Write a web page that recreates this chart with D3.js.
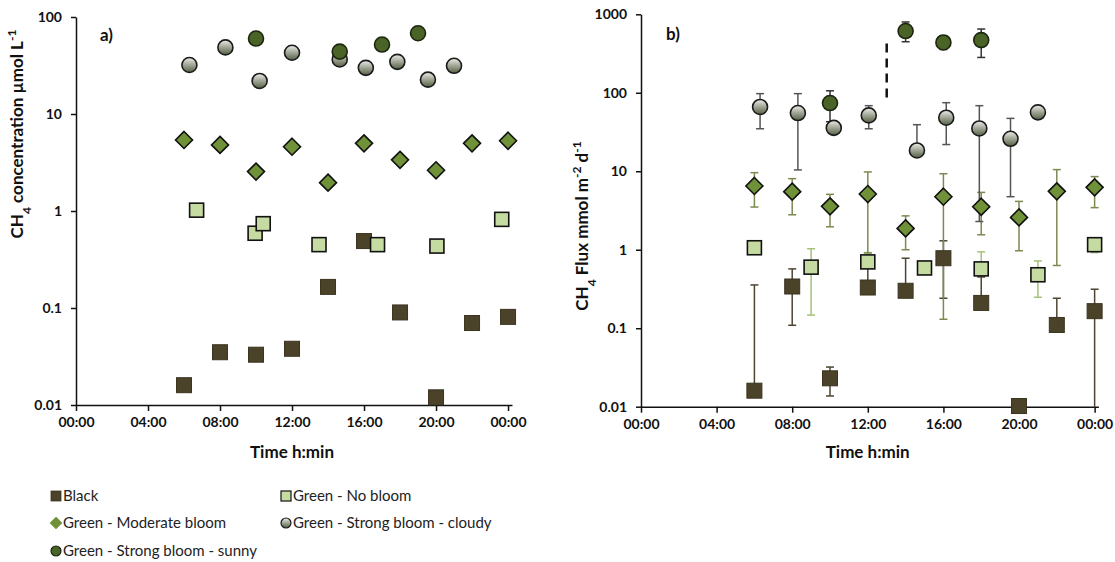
<!DOCTYPE html>
<html><head><meta charset="utf-8">
<script src="https://cdn.jsdelivr.net/npm/d3@7"></script>
<style>
body{margin:0;background:#fff;}
svg{display:block;font-family:Lato,"Open Sans",sans-serif;}
.tick text{font-weight:bold;font-size:14px;fill:#111;}
.domain,.tick line{stroke:#111;stroke-width:1.5px;}
</style></head><body>
<svg id="chart" width="1115" height="562"></svg>
<script>
// ---------- data ----------
const xTickHours = [0, 4, 8, 12, 16, 20, 24];
const xTickLabels = ["00:00", "04:00", "08:00", "12:00", "16:00", "20:00", "00:00"];
const yTicksA = [0.01, 0.1, 1, 10, 100];
const yTicksB = [0.01, 0.1, 1, 10, 100, 1000];
const seriesNames = ["Black", "Green - No bloom", "Green - Moderate bloom", "Green - Strong bloom - cloudy", "Green - Strong bloom - sunny"];

// Panel a) concentrations
const aBlackT = [6, 8, 10, 12, 14, 16, 18, 20, 22, 24];
const aBlackV = [0.016, 0.035, 0.033, 0.038, 0.165, 0.49, 0.09, 0.012, 0.07, 0.081];
const aNoBloomT = [6.7, 9.95, 10.4, 13.5, 16.75, 20.05, 23.65];
const aNoBloomV = [1.02, 0.59, 0.74, 0.45, 0.45, 0.435, 0.82];
const aModT = [6, 8, 10, 12, 14, 16, 18, 20, 22, 24];
const aModV = [5.4, 4.8, 2.55, 4.6, 1.96, 4.98, 3.37, 2.63, 4.98, 5.3];
const aCloudyT = [6.3, 8.3, 10.2, 12, 14.65, 16.1, 17.85, 19.55, 21];
const aCloudyV = [32, 48.6, 21.9, 42.8, 36.5, 29.9, 34.5, 22.6, 31.4];
const aSunnyT = [10, 14.65, 17, 19];
const aSunnyV = [60, 44, 52, 68];

// Panel b) fluxes with error bars (null = no bar on that side)
const bBlackT = [6, 8, 10, 12, 14, 16, 18, 20, 22, 24];
const bBlackV = [0.016, 0.34, 0.023, 0.33, 0.30, 0.78, 0.21, 0.0102, 0.11, 0.165];
const bBlackLo = [null, 0.109, 0.0137, null, null, 0.241, null, null, null, 0.01];
const bBlackHi = [0.356, 0.57, 0.032, 0.62, 0.78, 1.30, 0.45, null, 0.241, 0.314];
const bNoBloomT = [6, 9, 12, 15, 18, 21, 24];
const bNoBloomV = [1.06, 0.60, 0.70, 0.586, 0.57, 0.48, 1.16];
const bNoBloomLo = [null, 0.147, null, null, null, 0.248, 0.92];
const bNoBloomHi = [null, 1.03, 0.92, null, 0.94, 0.72, null];
const bModT = [6, 8, 10, 12, 14, 16, 18, 20, 22, 24];
const bModV = [6.5, 5.5, 3.57, 5.13, 1.87, 4.74, 3.53, 2.58, 5.55, 6.24];
const bModLo = [3.5, 2.79, 1.96, 0.91, 1.0, 0.13, 1.55, 0.97, 0.63, 3.44];
const bModHi = [9.6, 8.05, 5.08, 9.8, 2.7, 9.3, 5.38, 4.13, 10.5, 8.55];
const bCloudyT = [6.3, 8.3, 10.2, 12.05, 14.6, 16.15, 17.9, 19.55, 21];
const bCloudyV = [65.9, 55.2, 35.7, 51.5, 18.4, 48.1, 35.1, 25.9, 56.3];
const bCloudyLo = [34.8, 10.4, null, 34.8, null, 21.9, 2.29, 4.74, null];
const bCloudyHi = [97.5, 97.5, null, 68.5, 39.2, 74.8, 68.5, 47.2, null];
const bSunnyT = [10, 14, 16, 18];
const bSunnyV = [74, 612, 438, 469];
const bSunnyLo = [42.8, 447, 356, 282];
const bSunnyHi = [106, 798, 533, 649];
const dashT = 13;
const dashRange = [87, 460];

// ---------- drawing ----------
const svg = d3.select("#chart");
const defs = svg.append("defs");
const grad = defs.append("linearGradient").attr("id", "cloudy").attr("x1", 0).attr("y1", 0).attr("x2", 0).attr("y2", 1);
grad.append("stop").attr("offset", "0%").attr("stop-color", "#eeeeea");
grad.append("stop").attr("offset", "40%").attr("stop-color", "#aeb3a4");
grad.append("stop").attr("offset", "100%").attr("stop-color", "#545f44");

const style = {
  black:   {shape: "square", fill: "#4a4329", stroke: "#3a3420", sw: 1, size: 15, err: "#4d4530"},
  nobloom: {shape: "square", fill: "#c6dba2", stroke: "#111", sw: 1.6, size: 14, err: "#a6c07a"},
  mod:     {shape: "diamond", fill: "#6f9138", stroke: "#111", sw: 1.6, size: 17, err: "#7a8a50"},
  cloudy:  {shape: "circle", fill: "url(#cloudy)", stroke: "#1a1a1a", sw: 1.6, size: 15, err: "#555"},
  sunny:   {shape: "circle", fill: "#4a6326", stroke: "#1c2610", sw: 1.6, size: 15, err: "#333"}
};

function drawMarker(g, st, x, y, sizeOverride) {
  const s = sizeOverride || st.size;
  if (st.shape === "square") {
    g.append("rect").attr("x", x - s / 2).attr("y", y - s / 2).attr("width", s).attr("height", s)
      .attr("fill", st.fill).attr("stroke", st.stroke).attr("stroke-width", st.sw);
  } else if (st.shape === "diamond") {
    const h = s / 2;
    g.append("path").attr("d", `M${x},${y - h}L${x + h},${y}L${x},${y + h}L${x - h},${y}Z`)
      .attr("fill", st.fill).attr("stroke", st.stroke).attr("stroke-width", st.sw);
  } else {
    g.append("circle").attr("cx", x).attr("cy", y).attr("r", s / 2)
      .attr("fill", st.fill).attr("stroke", st.stroke).attr("stroke-width", st.sw);
  }
}

function panel(cfg) {
  const x = d3.scaleLinear().domain([0, cfg.xMax]).range(cfg.xRange);
  const y = d3.scaleLog().domain(cfg.yDomain).range(cfg.yRange);
  const g = svg.append("g");
  const xa = d3.axisBottom(x).tickValues(xTickHours).tickFormat((d, i) => xTickLabels[i])
    .tickSize(6).tickPadding(6).tickSizeOuter(0);
  g.append("g").attr("transform", `translate(0,${cfg.yRange[0]})`).call(xa);
  const ya = d3.axisLeft(y).tickValues(cfg.yTicks).tickFormat(d => String(d))
    .tickSize(5).tickPadding(9).tickSizeOuter(0);
  g.append("g").attr("transform", `translate(${cfg.xRange[0]},0)`).call(ya);
  g.selectAll(".tick text").attr("font-family", "Lato");

  // axis titles
  g.append("text").attr("x", (cfg.xRange[0] + cfg.xRange[1]) / 2 - 2).attr("y", 458)
    .attr("text-anchor", "middle").attr("font-weight", "bold").attr("font-size", 17).attr("fill", "#111")
    .text("Time h:min");
  const yt = g.append("text").attr("transform", `translate(${cfg.yTitleX},${cfg.yTitleY}) rotate(-90)`)
    .attr("text-anchor", "middle").attr("font-weight", "bold").attr("font-size", 17).attr("fill", "#111");
  cfg.yTitle.forEach(p => {
    const t = yt.append("tspan").text(p.t);
    if (p.sub) t.attr("baseline-shift", "sub").attr("font-size", 12);
    if (p.sup) t.attr("baseline-shift", "super").attr("font-size", 12);
  });
  g.append("text").attr("x", cfg.tag[0]).attr("y", cfg.tag[1]).attr("font-weight", "bold")
    .attr("font-size", 17).attr("fill", "#111").text(cfg.tagText);

  const eb = g.append("g"), mk = g.append("g");
  cfg.series.forEach(s => {
    const st = style[s.key];
    s.T.forEach((t, i) => {
      const cx = x(t), cy = y(s.V[i]);
      const lo = s.Lo ? s.Lo[i] : null, hi = s.Hi ? s.Hi[i] : null;
      const col = st.err;
      if (hi != null) {
        eb.append("line").attr("x1", cx).attr("x2", cx).attr("y1", cy).attr("y2", y(hi)).attr("stroke", col).attr("stroke-width", 1.5);
        eb.append("line").attr("x1", cx - 4).attr("x2", cx + 4).attr("y1", y(hi)).attr("y2", y(hi)).attr("stroke", col).attr("stroke-width", 1.5);
      }
      if (lo != null) {
        const yl = Math.min(y(lo), cfg.yRange[0]);
        eb.append("line").attr("x1", cx).attr("x2", cx).attr("y1", cy).attr("y2", yl).attr("stroke", col).attr("stroke-width", 1.5);
        if (y(lo) < cfg.yRange[0] - 1)
          eb.append("line").attr("x1", cx - 4).attr("x2", cx + 4).attr("y1", yl).attr("y2", yl).attr("stroke", col).attr("stroke-width", 1.5);
      }
      drawMarker(mk, st, cx, cy);
    });
  });
  if (cfg.dash) {
    g.append("line").attr("x1", x(cfg.dash.t)).attr("x2", x(cfg.dash.t))
      .attr("y1", y(cfg.dash.r[0])).attr("y2", y(cfg.dash.r[1]))
      .attr("stroke", "#111").attr("stroke-width", 2.5).attr("stroke-dasharray", "9,6");
  }
}

panel({
  xMax: 24.22, xRange: [76, 512], yDomain: [0.01, 100], yRange: [405, 17], yTicks: yTicksA,
  yTitleX: 23, yTitleY: 134, tag: [100, 41], tagText: "a)",
  yTitle: [{t: "CH"}, {t: "4", sub: true}, {t: " concentration µmol L"}, {t: "-1", sup: true}],
  series: [
    {key: "black", T: aBlackT, V: aBlackV},
    {key: "nobloom", T: aNoBloomT, V: aNoBloomV},
    {key: "mod", T: aModT, V: aModV},
    {key: "cloudy", T: aCloudyT, V: aCloudyV},
    {key: "sunny", T: aSunnyT, V: aSunnyV}
  ]
});

panel({
  xMax: 24.2, xRange: [641, 1098.4], yDomain: [0.01, 1000], yRange: [406.7, 14.3], yTicks: yTicksB,
  yTitleX: 588, yTitleY: 226, tag: [666, 40], tagText: "b)",
  yTitle: [{t: "CH"}, {t: "4", sub: true}, {t: " Flux mmol m"}, {t: "-2", sup: true}, {t: " d"}, {t: "-1", sup: true}],
  series: [
    {key: "black", T: bBlackT, V: bBlackV, Lo: bBlackLo, Hi: bBlackHi},
    {key: "nobloom", T: bNoBloomT, V: bNoBloomV, Lo: bNoBloomLo, Hi: bNoBloomHi},
    {key: "mod", T: bModT, V: bModV, Lo: bModLo, Hi: bModHi},
    {key: "cloudy", T: bCloudyT, V: bCloudyV, Lo: bCloudyLo, Hi: bCloudyHi},
    {key: "sunny", T: bSunnyT, V: bSunnyV, Lo: bSunnyLo, Hi: bSunnyHi}
  ],
  dash: {t: dashT, r: dashRange}
});

// legend
const legKeys = ["black", "nobloom", "mod", "cloudy", "sunny"];
const legPos = [[56, 496], [286, 496], [56, 523], [286, 523], [56, 551]];
const leg = svg.append("g");
legKeys.forEach((k, i) => {
  const [lx, ly] = legPos[i];
  const st = style[k];
  drawMarker(leg, Object.assign({}, st, {sw: k === "black" ? 0.8 : 1.2, stroke: k === "mod" ? st.fill : st.stroke}), lx, ly,
    st.shape === "diamond" ? 11 : 10);
  leg.append("text").attr("x", lx + 7).attr("y", ly).attr("dy", "0.35em").attr("font-size", 15)
    .attr("fill", "#222").text(seriesNames[i]);
});
</script></body></html>
